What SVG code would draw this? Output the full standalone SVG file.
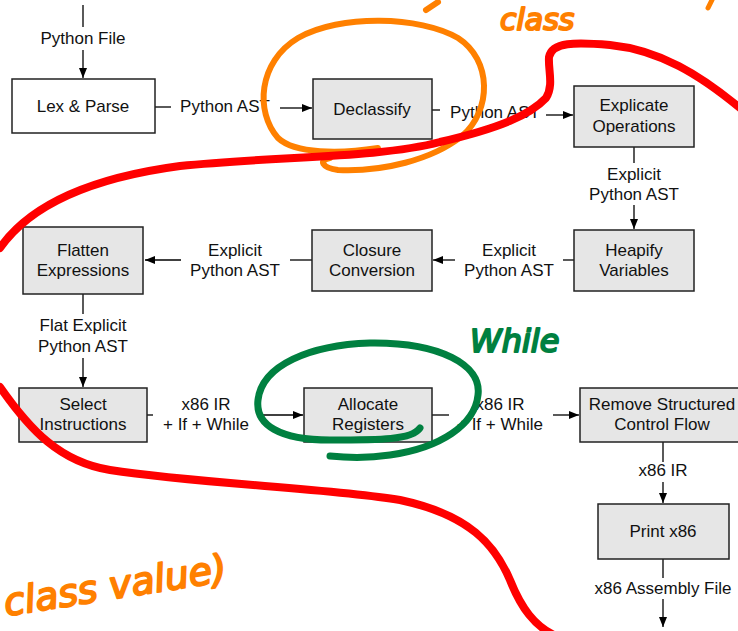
<svg xmlns="http://www.w3.org/2000/svg" width="738" height="631" viewBox="0 0 738 631">
<defs>
<marker id="ah" viewBox="0 0 10 10" refX="10" refY="5" markerWidth="10" markerHeight="10" markerUnits="userSpaceOnUse" orient="auto"><path d="M0,1 L10,5 L0,9 Z" fill="#000"/></marker>
<style>
.n{fill:#e6e6e6;stroke:#222;stroke-width:1.5}
.w{fill:#fff;stroke:#222;stroke-width:1.5}
.t{font-family:"Liberation Sans",Arial,sans-serif;font-size:17px;fill:#111;text-anchor:middle}
.c{stroke:#000;stroke-width:1.3;fill:none}
.a{marker-end:url(#ah)}
.hw{fill:none;stroke-linecap:round;stroke-linejoin:round}
.ht{font-family:"DejaVu Sans",sans-serif;font-style:italic;stroke-linejoin:round}
</style>
</defs>
<rect width="738" height="631" fill="#fff"/>
<g id="connectors">
<line class="c" x1="83" y1="5" x2="83" y2="27"/>
<text class="t" x="83" y="44">Python File</text>
<line class="c a" x1="83" y1="50" x2="83" y2="78"/>
<line class="c" x1="155" y1="107" x2="171" y2="107"/>
<text class="t" x="225" y="112">Python AST</text>
<line class="c a" x1="280" y1="108" x2="312" y2="108"/>
<line class="c" x1="432" y1="110" x2="440" y2="110"/>
<text class="t" x="495" y="118">Python AST</text>
<line class="c a" x1="546" y1="115" x2="573" y2="115"/>
<line class="c" x1="634" y1="147" x2="634" y2="163"/>
<text class="t" x="634" y="180">Explicit</text>
<text class="t" x="634" y="200">Python AST</text>
<line class="c a" x1="634" y1="205" x2="634" y2="229"/>
<line class="c" x1="574" y1="260" x2="563" y2="260"/>
<text class="t" x="509" y="256">Explicit</text>
<text class="t" x="509" y="276">Python AST</text>
<line class="c a" x1="455" y1="260" x2="433" y2="260"/>
<line class="c" x1="312" y1="260" x2="290" y2="260"/>
<text class="t" x="235" y="256">Explicit</text>
<text class="t" x="235" y="276">Python AST</text>
<line class="c a" x1="181" y1="260" x2="145" y2="260"/>
<line class="c" x1="83" y1="294" x2="83" y2="314"/>
<text class="t" x="83" y="331">Flat Explicit</text>
<text class="t" x="83" y="352">Python AST</text>
<line class="c a" x1="83" y1="358" x2="83" y2="387"/>
<line class="c" x1="147" y1="415" x2="153" y2="415"/>
<text class="t" x="206" y="410">x86 IR</text>
<text class="t" x="206" y="430">+ If + While</text>
<line class="c a" x1="260" y1="415" x2="303" y2="415"/>
<line class="c" x1="432" y1="415" x2="449" y2="415"/>
<text class="t" x="500" y="410">x86 IR</text>
<text class="t" x="500" y="430">+ If + While</text>
<line class="c a" x1="553" y1="415" x2="579" y2="415"/>
<line class="c" x1="663" y1="442" x2="663" y2="462"/>
<text class="t" x="663" y="476">x86 IR</text>
<line class="c a" x1="663" y1="482" x2="663" y2="503"/>
<line class="c" x1="663" y1="559" x2="663" y2="578"/>
<text class="t" x="663" y="594">x86 Assembly File</text>
<line class="c a" x1="663" y1="599" x2="663" y2="627"/>
</g>
<g id="lex"><rect class="w" x="12" y="79" width="143" height="54"/><text class="t" x="83" y="112">Lex &amp; Parse</text></g>
<g id="declassify"><rect class="n" x="313" y="79" width="119" height="60"/><text class="t" x="372" y="115">Declassify</text></g>
<g id="explicate"><rect class="n" x="574" y="86" width="120" height="61"/><text class="t" x="634" y="111">Explicate</text><text class="t" x="634" y="132">Operations</text></g>
<g id="heapify"><rect class="n" x="574" y="230" width="120" height="61"/><text class="t" x="634" y="256">Heapify</text><text class="t" x="634" y="276">Variables</text></g>
<g id="closure"><rect class="n" x="312" y="230" width="120" height="61"/><text class="t" x="372" y="256">Closure</text><text class="t" x="372" y="276">Conversion</text></g>
<g id="flatten"><rect class="n" x="23" y="227" width="120" height="67"/><text class="t" x="83" y="256">Flatten</text><text class="t" x="83" y="276">Expressions</text></g>
<g id="select"><rect class="n" x="19" y="388" width="128" height="54"/><text class="t" x="83" y="410">Select</text><text class="t" x="83" y="430">Instructions</text></g>
<g id="allocate"><rect class="n" x="304" y="388" width="128" height="54"/><text class="t" x="368" y="410">Allocate</text><text class="t" x="368" y="430">Registers</text></g>
<g id="remove"><rect class="n" x="580" y="388" width="170" height="54"/><text class="t" x="662" y="410">Remove Structured</text><text class="t" x="662" y="430">Control Flow</text></g>
<g id="print"><rect class="n" x="598" y="504" width="131" height="55"/><text class="t" x="663" y="537">Print x86</text></g>
<g id="annotations">
<path class="hw" stroke="#ff8000" stroke-width="6" d="M378 148 C340 154,295 154,278 138 C255 112,258 62,298 38 C340 14,420 16,458 38 C492 60,492 110,462 136 C432 160,382 172,338 170 C322 168,318 160,330 158"/>
<path class="hw" stroke="#ff8000" stroke-width="6" d="M438 2 L426 10"/>
<text class="ht" x="500" y="30" font-size="30" fill="#ff8000" stroke="#ff8000" stroke-width="2">class</text>
<path class="hw" stroke="#ff8000" stroke-width="5" d="M712 0 L708 8"/>
<text class="ht" x="6" y="616" font-size="38" fill="#ff8000" stroke="#ff8000" stroke-width="2" transform="rotate(-9 6 616)">class value)</text>
<path class="hw" stroke="#ff0000" stroke-width="8" d="M0 248 C30 205,90 178,180 166 C280 156,380 158,440 142 C500 128,530 115,546 98 C554 85,548 70,549 57 C552 42,575 42,610 45 C660 50,700 75,740 108"/>
<path class="hw" stroke="#ff0000" stroke-width="8" d="M0 387 C30 430,60 462,110 470 C200 484,330 488,400 500 C470 515,495 545,510 580 C522 610,535 625,552 634"/>
<path class="hw" stroke="#008040" stroke-width="7" d="M420 428 C412 440,380 440,330 440 C280 440,255 425,258 400 C262 365,310 345,370 343 C440 342,482 365,478 395 C475 425,440 448,390 455 C370 458,350 458,330 456"/>
<text class="ht" x="470" y="352" font-size="32" fill="#008040" stroke="#008040" stroke-width="2">While</text>
</g>
</svg>
